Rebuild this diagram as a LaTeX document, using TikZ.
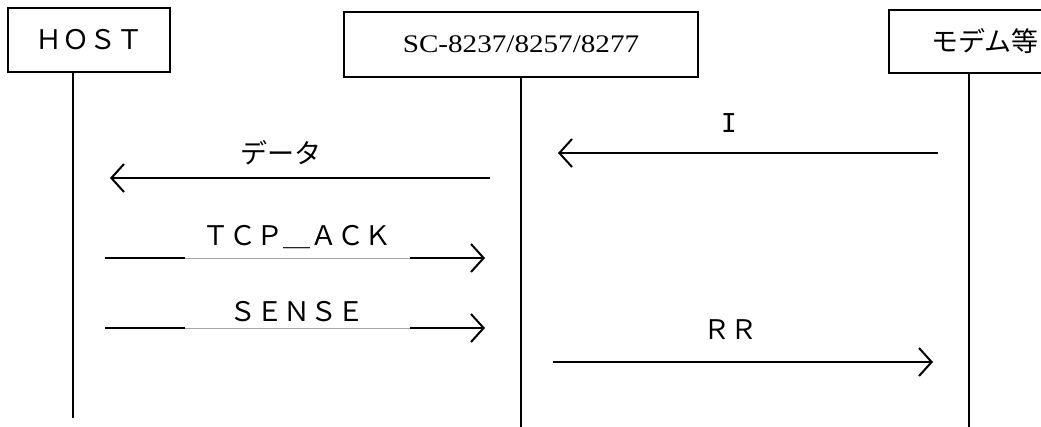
\documentclass[tikz,border=0pt]{standalone}
\usepackage{fontspec}
\usepackage{graphicx}
\newfontfamily\jpfont{Noto Sans CJK JP}
\newfontfamily\ttmono{DejaVu Sans Mono}
\newfontfamily\rmserif{Liberation Serif}
\usetikzlibrary{arrows.meta}

\tikzset{
  unit/.style={draw, line width=1.9pt, inner sep=0pt},
  lifeline/.style={line width=1.6pt},
  msg/.style={line width=1.5pt, -{Straight Barb[length=9.5pt,width=21pt,line width=1.5pt]}},
  msgplain/.style={line width=1.5pt},
  msgthin/.style={line width=0.6pt, gray!70},
  lbl/.style={inner sep=0pt, font=\jpfont\fontsize{20.25pt}{21pt}\selectfont}
}

\begin{document}
\begin{tikzpicture}[x=0.75pt, y=-0.75pt]
\useasboundingbox (0,0) rectangle (1041,426);
\clip (0,0) rectangle (1041,426);

% units at the top
\node[unit, lbl, minimum width=162*0.75pt, minimum height=64*0.75pt] (host) at (89,40) {ＨＯＳＴ};
\node[unit, minimum width=354*0.75pt, minimum height=65*0.75pt,
      font=\rmserif\fontsize{19pt}{20pt}\selectfont] (sc) at (521,44.5) {\scalebox{1.15}[1]{SC-8237/8257/8277}};
\node[unit, lbl, minimum width=192*0.75pt, minimum height=63*0.75pt] (modem) at (985,41.5) {モデム等};

% lifelines
\coordinate (hostend) at (73,418);
\coordinate (scend) at (521,430);
\coordinate (modemend) at (969,430);
\draw[lifeline] (host.south -| hostend) -- (hostend);
\draw[lifeline] (sc.south) -- (scend);
\draw[lifeline] (modem.south -| modemend) -- (modemend);

% I
\coordinate (i0) at (938,153);
\coordinate (i1) at (558,153);
\draw[msg] (i0) -- (i1);
\node[inner sep=0pt, font=\ttmono\fontsize{19.5pt}{20pt}\selectfont] (ilbl) at (729,123) {I};

% data
\coordinate (d0) at (490,178);
\coordinate (d1) at (110,178);
\draw[msg] (d0) -- (d1);
\node[lbl] (dlbl) at (281,153) {データ};

% TCP_ACK
\coordinate (t0) at (105,258);
\coordinate (t1) at (185,258);
\coordinate (t2) at (410,258);
\coordinate (t3) at (485,258);
\draw[msgplain] (t0) -- (t1);
\draw[msgthin] (t1) -- (t2);
\draw[msg] (t2) -- (t3);
\node[lbl] (tlbl) at (297,237) {ＴＣＰ＿ＡＣＫ};

% SENSE
\coordinate (s0) at (105,328);
\coordinate (s1) at (185,328);
\coordinate (s2) at (410,328);
\coordinate (s3) at (485,328);
\draw[msgplain] (s0) -- (s1);
\draw[msgthin] (s1) -- (s2);
\draw[msg] (s2) -- (s3);
\node[lbl] (slbl) at (297,312) {ＳＥＮＳＥ};

% RR
\coordinate (r0) at (553,362);
\coordinate (r1) at (933,362);
\draw[msg] (r0) -- (r1);
\node[lbl] (rlbl) at (730,330) {ＲＲ};
\end{tikzpicture}
\end{document}
